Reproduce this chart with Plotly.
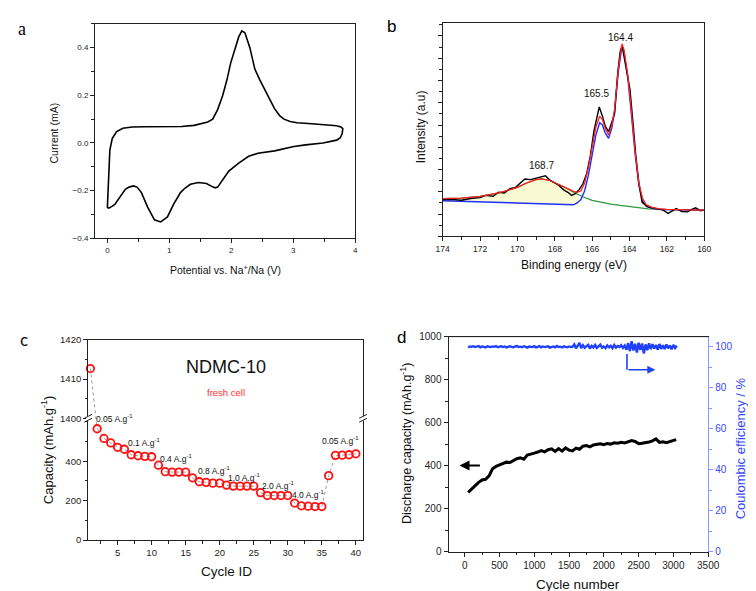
import plotly.graph_objects as go

W, H = 756, 591
def PX(x): return x / W
def PY(y): return 1 - y / H

# ---------------- Panel a: CV ----------------
cv_potential = [0.00, 0.01, 0.02, 0.04, 0.08, 0.15, 0.25, 0.40, 0.60, 0.80, 1.00, 1.20, 1.40, 1.54, 1.62,
                1.70, 1.78, 1.86, 1.93, 1.99, 2.06, 2.12, 2.17, 2.22, 2.30, 2.38, 2.46, 2.54, 2.62, 2.70,
                2.78, 2.85, 2.95, 3.06, 3.30, 3.53, 3.70, 3.77, 3.80, 3.79, 3.76, 3.70, 3.48, 3.20,
                3.01, 2.70, 2.43, 2.28, 2.12, 1.96, 1.86, 1.78, 1.74, 1.70, 1.60, 1.47, 1.34, 1.25,
                1.18, 1.07, 0.97, 0.86, 0.76, 0.65, 0.55, 0.48, 0.42, 0.35, 0.29, 0.18, 0.12, 0.08,
                0.03, 0.00]
cv_current = [-0.272, -0.20, -0.10, -0.03, 0.020, 0.048, 0.062, 0.067, 0.068, 0.068, 0.067, 0.069, 0.074, 0.081, 0.088,
              0.100, 0.140, 0.198, 0.265, 0.335, 0.400, 0.445, 0.470, 0.462, 0.400, 0.310, 0.265, 0.225, 0.180, 0.143,
              0.115, 0.100, 0.090, 0.085, 0.081, 0.077, 0.072, 0.067, 0.060, 0.040, 0.022, 0.012, 0.000, -0.008,
              -0.015, -0.033, -0.043, -0.056, -0.084, -0.118, -0.153, -0.185, -0.188, -0.184, -0.170, -0.166, -0.173, -0.190,
              -0.208, -0.256, -0.310, -0.331, -0.322, -0.269, -0.208, -0.185, -0.180, -0.185, -0.194, -0.235, -0.258, -0.265,
              -0.272, -0.272]

# ---------------- Panel b: XPS S2p ----------------
xps_raw_be = [174.0, 173.5, 173.0, 172.5, 172.0, 171.7, 171.3, 171.0, 170.7, 170.4, 170.1, 169.8, 169.6, 169.3,
              169.0, 168.8, 168.5, 168.3, 168.1, 167.8, 167.5, 167.3, 167.1, 166.9, 166.7, 166.5, 166.3, 166.1,
              165.9, 165.75, 165.62, 165.45, 165.3, 165.12, 164.95, 164.8, 164.63, 164.5, 164.4, 164.25, 164.1,
              163.98, 163.8, 163.67, 163.5, 163.33, 163.15, 162.98, 162.6, 162.2, 161.93, 161.7, 161.5, 161.2,
              160.89, 160.7, 160.46, 160.2, 160.0]
xps_raw_int = [1.65, 1.66, 1.62, 1.70, 1.74, 1.84, 1.80, 1.98, 1.95, 2.14, 2.20, 2.42, 2.58, 2.55,
               2.62, 2.66, 2.72, 2.55, 2.45, 2.30, 2.08, 1.98, 1.84, 1.92, 2.10, 2.35, 2.80, 3.60,
               4.75, 5.40, 5.81, 5.40, 4.95, 4.70, 5.10, 5.50, 7.35, 8.30, 8.56, 7.90, 7.20,
               6.62, 5.00, 3.68, 2.40, 1.54, 1.40, 1.32, 1.25, 1.18, 1.03, 1.15, 1.25, 1.12,
               1.10, 1.20, 1.28, 1.15, 1.18]
xps_env_be = [174.0, 173.0, 172.0, 171.0, 170.0, 169.5, 169.0, 168.7, 168.3, 168.0, 167.5, 167.0, 166.8, 166.6,
              166.4, 166.2, 166.0, 165.8, 165.6, 165.45, 165.3, 165.12, 164.95, 164.8, 164.6, 164.45, 164.4,
              164.3, 164.1, 163.9, 163.7, 163.5, 163.3, 163.1, 162.8, 162.4, 162.0, 161.0, 160.0]
xps_env_int = [1.70, 1.72, 1.80, 1.95, 2.20, 2.40, 2.55, 2.58, 2.52, 2.42, 2.22, 2.02, 1.98, 2.05,
               2.40, 3.10, 4.00, 4.90, 5.40, 5.25, 4.85, 4.55, 4.95, 5.70, 7.50, 8.50, 8.65,
               8.40, 7.30, 5.60, 3.80, 2.40, 1.70, 1.42, 1.30, 1.24, 1.21, 1.19, 1.18]
xps_s2p_be = [174.0, 172.0, 170.0, 168.0, 167.3, 167.0, 166.8, 166.6, 166.4, 166.2, 166.0, 165.8, 165.6, 165.45,
              165.3, 165.12, 164.95, 164.8, 164.6, 164.45, 164.4, 164.3, 164.1, 163.9, 163.7, 163.5, 163.3,
              163.1, 162.8, 162.4, 162.0, 161.0, 160.0]
xps_s2p_int = [1.60, 1.55, 1.50, 1.43, 1.40, 1.42, 1.50, 1.65, 2.05, 2.75, 3.65, 4.55, 5.10, 5.00,
               4.65, 4.40, 4.85, 5.60, 7.40, 8.40, 8.55, 8.30, 7.20, 5.50, 3.70, 2.30, 1.60,
               1.35, 1.26, 1.22, 1.20, 1.19, 1.18]
xps_sox_be = [174.0, 173.0, 172.0, 171.0, 170.0, 169.5, 169.0, 168.7, 168.3, 168.0, 167.5, 167.0, 166.5,
              166.0, 165.5, 165.0, 164.5, 164.0, 163.5, 163.0, 162.0, 161.0, 160.0]
xps_sox_int = [1.70, 1.72, 1.80, 1.95, 2.20, 2.40, 2.55, 2.58, 2.52, 2.42, 2.22, 1.98, 1.78,
               1.62, 1.52, 1.45, 1.39, 1.33, 1.28, 1.24, 1.20, 1.18, 1.17]
xps_peak_labels = ["168.7", "165.5", "164.4"]
xps_peak_be = [168.7, 165.77, 164.47]
xps_peak_int = [3.2, 6.4, 8.94]

# ---------------- Panel c: rate capability ----------------
rate_cycle = list(range(1, 41))
rate_capacity = [1412.7, 565, 516, 493, 471, 461, 433, 428, 425, 423, 380, 347, 345, 345, 345, 316, 296, 293,
                 289, 289, 279, 274, 274, 274, 274, 241, 226, 226, 226, 226, 188, 174, 172, 170, 170, 327,
                 430, 431, 433, 438]
rate_labels = ["0.05 A.g<sup>-1</sup>", "0.1 A.g<sup>-1</sup>", "0.4 A.g<sup>-1</sup>", "0.8 A.g<sup>-1</sup>",
               "1.0 A.g<sup>-1</sup>", "2.0 A.g<sup>-1</sup>", "4.0 A.g<sup>-1</sup>", "0.05 A.g<sup>-1</sup>"]
rate_label_x = [4.6, 8.9, 13.6, 19.2, 23.5, 28.5, 32.9, 37.8]
rate_label_y = [616, 494, 413, 355, 317, 276, 231, 506]
LOW_TOP, UP_BOT, UP_TOP = 618, 1400, 1420

# ---------------- Panel d: long cycling ----------------
long_cycle = [50, 100, 150, 200, 250, 300, 350, 400, 450, 500, 550, 600, 650, 700, 750, 800, 850, 900, 950,
              1000, 1050, 1100, 1150, 1200, 1250, 1300, 1350, 1400, 1450, 1500, 1550, 1600, 1650, 1700,
              1750, 1800, 1850, 1900, 1950, 2000, 2050, 2100, 2150, 2200, 2250, 2300, 2350, 2400, 2450,
              2500, 2550, 2600, 2650, 2700, 2750, 2800, 2850, 2900, 2950, 3000, 3040]
long_capacity = [275, 292, 308, 322, 333, 336, 352, 385, 396, 403, 410, 416, 414, 424, 432, 436, 430, 449, 455,
                 458, 463, 470, 464, 474, 478, 466, 479, 467, 482, 472, 468, 481, 476, 490,
                 493, 487, 496, 499, 501, 497, 503, 500, 506, 504, 508, 505, 510, 516, 512,
                 502, 504, 506, 510, 515, 524, 508, 511, 506, 512, 517, 521]
ce_cycle = list(range(50, 3051, 25))
ce_value = [99.7, 100.2, 100.0, 100.3, 99.9, 100.1, 100.4, 99.8, 100.2, 100.0,
            99.7, 100.3, 100.1, 99.9, 100.2, 100.0, 100.4, 99.8, 100.1, 100.3,
            99.9, 100.2, 99.7, 100.1, 100.3, 100.0, 99.8, 100.2, 100.4, 99.9,
            100.1, 99.8, 100.3, 100.0, 99.6, 100.2, 100.1, 99.9, 100.3, 99.7,
            100.0, 100.4, 99.8, 100.2, 99.9, 100.1, 100.3, 99.6, 100.0, 100.2,
            99.8, 100.4, 99.9, 100.1, 99.7, 100.3, 100.0, 99.8, 100.2, 99.9, 100.1,
            101.2, 99.3, 100.6, 101.9, 99.4, 100.8, 99.6, 100.3, 101.0, 99.2,
            100.5, 99.7, 100.9, 99.5, 100.4, 101.1, 99.6, 100.2, 99.4, 100.7,
            99.8, 100.5, 99.3, 100.9, 99.6, 100.4, 99.9, 100.8, 99.5, 100.6,
            98.6, 101.8, 97.9, 102.8, 98.2, 101.5, 97.2, 102.0, 98.5, 101.6, 96.8, 101.2, 98.4, 101.7,
            98.9, 101.3, 99.2, 100.9, 98.7, 101.4, 99.0, 100.8, 98.9, 101.2, 99.3, 100.7, 98.8, 101.0, 99.4, 100.5]

FONT = "Liberation Sans"
BLUE = "#2040ff"
AXBLUE = "#8a96ff"
fig = go.Figure()

# panel a
fig.add_trace(go.Scatter(x=cv_potential, y=cv_current, mode="lines", line=dict(color="black", width=1.6),
                         xaxis="x", yaxis="y", showlegend=False))

# panel b
fill_b_be = [b for b in xps_s2p_be if b >= 166.6]
fill_b_int = [v for b, v in zip(xps_s2p_be, xps_s2p_int) if b >= 166.6]
fill_g_be = [b for b in xps_sox_be if b >= 166.6]
fill_g_int = [v for b, v in zip(xps_sox_be, xps_sox_int) if b >= 166.6]
fig.add_trace(go.Scatter(x=fill_b_be, y=fill_b_int, mode="lines", line=dict(width=0), xaxis="x2", yaxis="y2",
                         showlegend=False, hoverinfo="skip"))
fig.add_trace(go.Scatter(x=fill_g_be, y=fill_g_int, mode="lines", line=dict(width=0), fill="tonexty",
                         fillcolor="rgba(248,248,205,0.9)", xaxis="x2", yaxis="y2", showlegend=False, hoverinfo="skip"))
fig.add_trace(go.Scatter(x=xps_sox_be, y=xps_sox_int, mode="lines", line=dict(color="#2a9a3a", width=1.2),
                         xaxis="x2", yaxis="y2", showlegend=False))
fig.add_trace(go.Scatter(x=xps_s2p_be, y=xps_s2p_int, mode="lines", line=dict(color="#2030ff", width=1.4),
                         xaxis="x2", yaxis="y2", showlegend=False))
fig.add_trace(go.Scatter(x=xps_raw_be, y=xps_raw_int, mode="lines", line=dict(color="black", width=1.4),
                         xaxis="x2", yaxis="y2", showlegend=False))
fig.add_trace(go.Scatter(x=xps_env_be, y=xps_env_int, mode="lines", line=dict(color="#ff2020", width=1.3),
                         xaxis="x2", yaxis="y2", showlegend=False))

# panel c: broken axis
c_low_dom = [0.0914, 0.3017]
c_up_dom = [0.3017, 0.4371]
h_low = (c_low_dom[1] - c_low_dom[0]) * H
h_up = (c_up_dom[1] - c_up_dom[0]) * H
def to_upper(v):
    return UP_BOT - (LOW_TOP - v) / LOW_TOP * h_low * (UP_TOP - UP_BOT) / h_up
def to_lower(v):
    return LOW_TOP + (v - UP_BOT) / (UP_TOP - UP_BOT) * h_up * LOW_TOP / h_low

dot_line = dict(color="#8a8a8a", width=0.9, dash="dot")
fig.add_trace(go.Scatter(x=rate_cycle[:2], y=[rate_capacity[0], to_upper(rate_capacity[1])], mode="lines",
                         line=dot_line, xaxis="x4", yaxis="y4", showlegend=False))
fig.add_trace(go.Scatter(x=rate_cycle[:2], y=[to_lower(rate_capacity[0]), rate_capacity[1]], mode="lines",
                         line=dot_line, xaxis="x3", yaxis="y3", showlegend=False))
marker_c = dict(symbol="circle-open", size=7.5, color="#ff1010", line=dict(width=1.8, color="#ff1010"))
fig.add_trace(go.Scatter(x=rate_cycle[1:], y=rate_capacity[1:], mode="lines+markers", line=dot_line,
                         marker=marker_c, xaxis="x3", yaxis="y3", showlegend=False, cliponaxis=False))
fig.add_trace(go.Scatter(x=rate_cycle[:1], y=rate_capacity[:1], mode="markers", marker=marker_c,
                         xaxis="x4", yaxis="y4", showlegend=False, cliponaxis=False))

# panel d
fig.add_trace(go.Scatter(x=long_cycle, y=long_capacity, mode="lines", line=dict(color="black", width=3),
                         xaxis="x5", yaxis="y5", showlegend=False))
fig.add_trace(go.Scatter(x=ce_cycle, y=ce_value, mode="lines", line=dict(color=BLUE, width=2.4),
                         xaxis="x5", yaxis="y6", showlegend=False))

def ax(**kw):
    base = dict(showline=True, linecolor="#222", linewidth=1, mirror=True, ticks="outside", ticklen=4,
                tickwidth=1, tickcolor="#222", showgrid=False, zeroline=False,
                tickfont=dict(family=FONT, size=8, color="#222"))
    base.update(kw)
    return base

layout = dict(
    width=W, height=H, margin=dict(l=0, r=0, t=0, b=0), paper_bgcolor="white", plot_bgcolor="white",
    showlegend=False,
    xaxis=ax(domain=[0.1085, 0.4616], anchor="y", range=[-0.2, 4], dtick=1,
             minor=dict(dtick=0.5, ticks="outside", ticklen=2.5, tickcolor="#222")),
    yaxis=ax(domain=[0.6125, 0.9831], anchor="x", range=[-0.4, 0.5], tickvals=[-0.4, -0.2, 0, 0.2, 0.4],
             tickformat=".1f", minor=dict(dtick=0.1, ticks="outside", ticklen=2.5, tickcolor="#222")),
    xaxis2=ax(domain=[0.5803, 0.9352], anchor="y2", range=[174, 160], dtick=2,
              tickfont=dict(family=FONT, size=8.5, color="#222"),
              minor=dict(dtick=1, ticks="outside", ticklen=2.5, tickcolor="#222")),
    yaxis2=ax(domain=[0.6159, 0.9848], anchor="x2", range=[0, 9.59], dtick=1, showticklabels=False,
              minor=dict(dtick=0.5, ticks="outside", ticklen=2.5, tickcolor="#222")),
    xaxis3=ax(domain=[0.0992, 0.4722], anchor="y3", range=[0.67, 41.05], tickvals=[5, 10, 15, 20, 25, 30, 35, 40],
              mirror=False, tickfont=dict(family=FONT, size=9.5, color="#222"),
              minor=dict(dtick=2.5, ticks="outside", ticklen=2.5, tickcolor="#222")),
    yaxis3=ax(domain=c_low_dom, anchor="x3", range=[0, LOW_TOP], tickvals=[0, 200, 400],
              tickfont=dict(family=FONT, size=9.5, color="#222"),
              minor=dict(dtick=100, ticks="outside", ticklen=2.5, tickcolor="#222")),
    xaxis4=ax(domain=[0.0992, 0.4722], anchor="y4", matches="x3", side="top", mirror=False, ticks="",
              showticklabels=False),
    yaxis4=ax(domain=c_up_dom, anchor="x4", range=[UP_BOT, UP_TOP], tickvals=[1400, 1410, 1420],
              tickfont=dict(family=FONT, size=9.5, color="#222"),
              minor=dict(dtick=5, ticks="outside", ticklen=2.5, tickcolor="#222")),
    xaxis5=ax(domain=[0.5882, 0.9405], anchor="y5", range=[-233, 3500], dtick=500,
              tickfont=dict(family=FONT, size=10, color="#222"),
              minor=dict(dtick=250, ticks="outside", ticklen=2.5, tickcolor="#222")),
    yaxis5=ax(domain=[0.0716, 0.4428], anchor="x5", range=[0, 1000], dtick=200, mirror=False,
              tickfont=dict(family=FONT, size=10, color="#222"),
              minor=dict(dtick=100, ticks="outside", ticklen=2.5, tickcolor="#222")),
    yaxis6=ax(domain=[0.0716, 0.4428], anchor="x5", overlaying="y5", side="right", range=[0, 105], dtick=20,
              mirror=False, linecolor=AXBLUE, tickcolor=AXBLUE, linewidth=1.3,
              tickfont=dict(family=FONT, size=10, color="#3348ff"),
              minor=dict(dtick=10, ticks="outside", ticklen=2.5, tickcolor=AXBLUE)),
)
fig.update_layout(**layout)

ann = []
def T(text, x, y, size, color="#111", angle=0, family=FONT, xanchor="center", yanchor="middle"):
    ann.append(dict(text=text, x=PX(x), y=PY(y), xref="paper", yref="paper", showarrow=False,
                    font=dict(family=family, size=size, color=color), textangle=angle,
                    xanchor=xanchor, yanchor=yanchor))

# panel labels
T("a", 7, 15, 18, family="Liberation Serif", color="black")
T("b", 386, 13, 17, color="black")
T("c", 9, 334, 15, color="black", family="DejaVu Sans")
T("d", 396, 330, 17, color="black")
# axis titles
T("Current (mA)", 40, 121, 10.5, angle=-90)
T("Potential vs. Na<sup>+</sup>/Na (V)", 216, 261, 10.5)
T("Intensity (a.u)", 416, 115, 12, angle=-90)
T("Binding energy (eV)", 573, 256, 12)
T("Capacity (mAh.g<sup>-1</sup>)", 33, 445, 13, angle=-90)
T("Cycle ID", 217, 569, 13.5)
T("Discharge capacity (mAh.g<sup>-1</sup>)", 401, 438, 12.5, angle=-90)
T("Coulombic efficiency / %", 744, 443, 13, color="#3348ff", angle=-90)
T("Cycle number", 578, 582, 13.5)

# panel b peak labels
for t, bx, by in zip(xps_peak_labels, xps_peak_be, xps_peak_int):
    ann.append(dict(text=t, x=bx, y=by, xref="x2", yref="y2", showarrow=False,
                    font=dict(family=FONT, size=10, color="#111")))
# panel c labels
for t, cx, cy in zip(rate_labels, rate_label_x, rate_label_y):
    ann.append(dict(text=t, x=cx, y=cy, xref="x3", yref="y3", showarrow=False,
                    font=dict(family=FONT, size=8.5, color="#111")))
ann.append(dict(text="NDMC-10", x=20.9, y=1413.2, xref="x4", yref="y4", showarrow=False,
                font=dict(family=FONT, size=18, color="#111")))
ann.append(dict(text="fresh cell", x=20.9, y=1406.5, xref="x4", yref="y4", showarrow=False,
                font=dict(family=FONT, size=9.5, color="#ff3030")))
# panel d arrows
ann.append(dict(x=-75, y=400, ax=240, ay=400, xref="x5", yref="y5", axref="x5", ayref="y5", text="",
                showarrow=True, arrowhead=2, arrowsize=1, arrowwidth=2, arrowcolor="black"))
ann.append(dict(x=2740, y=88.8, ax=2333, ay=88.8, xref="x5", yref="y6", axref="x5", ayref="y6", text="",
                showarrow=True, arrowhead=2, arrowsize=1, arrowwidth=1.6, arrowcolor=BLUE))
fig.update_layout(annotations=ann)

shapes = [
    dict(type="line", xref="x5", yref="y6", x0=2333, x1=2333, y0=96.5, y1=88.8, line=dict(color=BLUE, width=1.6)),
    # top frame of panel d
    dict(type="line", xref="paper", yref="paper", x0=0.5882, x1=0.9405, y0=0.4428, y1=0.4428,
         line=dict(color="#222", width=1)),
]
# axis break marks in panel c
for bx in (75, 357):
    shapes.append(dict(type="rect", xref="paper", yref="paper", x0=PX(bx - 2), x1=PX(bx + 2),
                       y0=PY(415), y1=PY(410.5), fillcolor="white", line=dict(width=0)))
    for off in (-2, 2):
        shapes.append(dict(type="line", xref="paper", yref="paper", x0=PX(bx - 4), x1=PX(bx + 4),
                           y0=PY(412.7 + off + 2), y1=PY(412.7 + off - 2), line=dict(color="#222", width=1)))
fig.update_layout(shapes=shapes)

fig.write_html("out.html")
